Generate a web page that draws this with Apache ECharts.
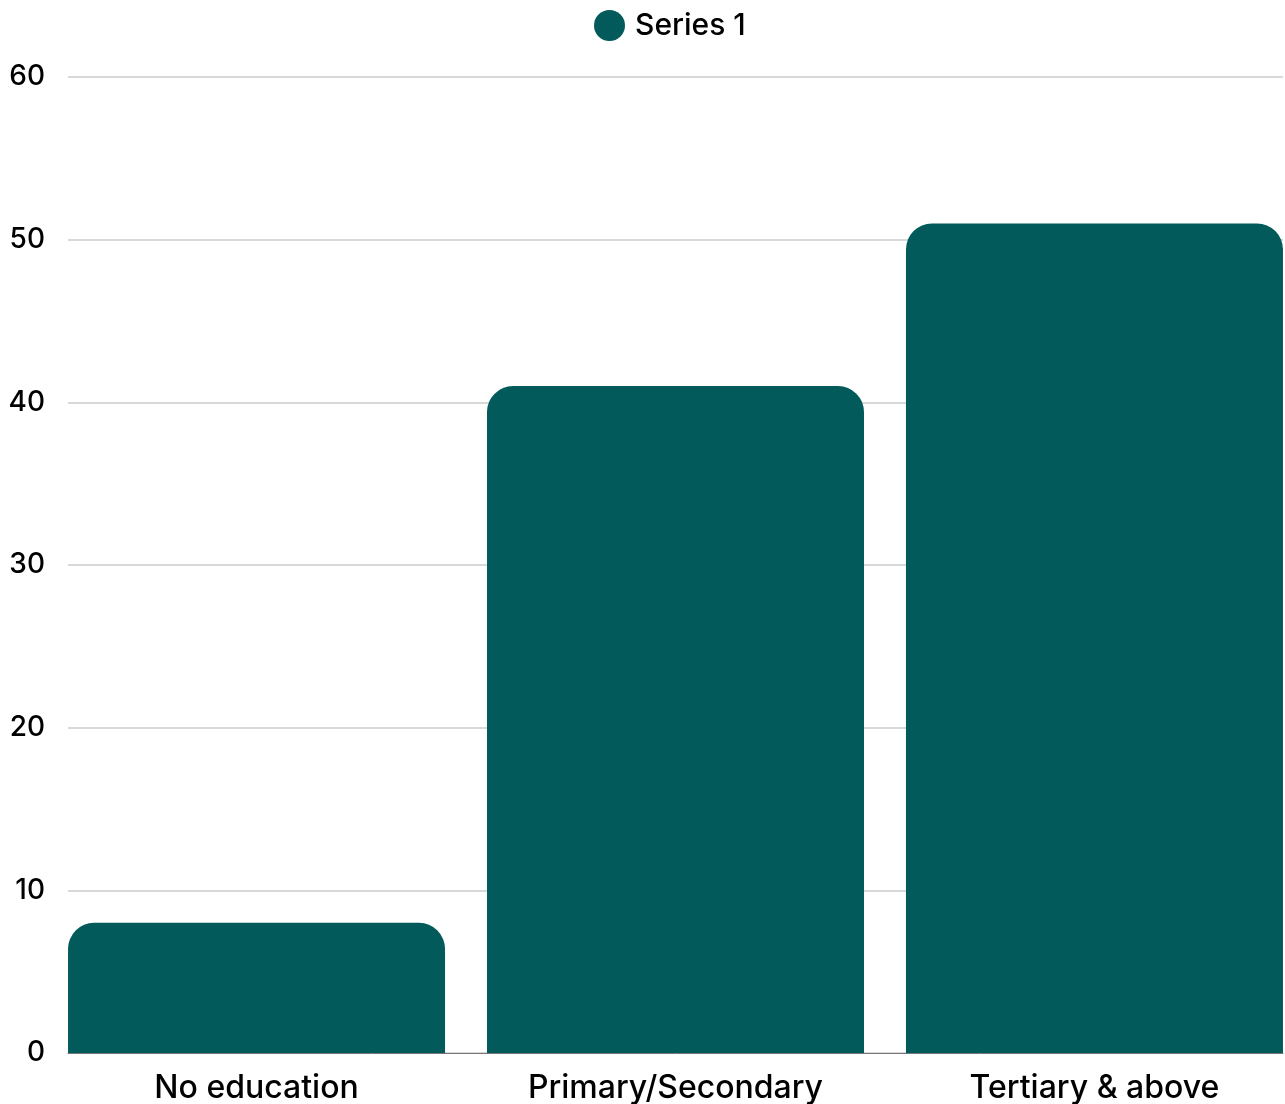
<!DOCTYPE html>
<html>
<head>
<meta charset="utf-8">
<style>
  html, body { margin: 0; padding: 0; background: #fff; }
  #chart { width: 1285px; height: 1104px; }
</style>
<script src="https://cdn.jsdelivr.net/npm/echarts@6/dist/echarts.min.js"></script>
</head>
<body>
<div id="chart"></div>
<script>
// data
const categories = ['No education', 'Primary/Secondary', 'Tertiary & above']
const seriesName = 'Series 1'
const values = [8, 41, 51]
const yTicks = { min: 0, max: 60, interval: 10 }

const barColor = '#025a5a'
const fontFamily = 'Inter, "Open Sans", sans-serif'

// bars touch both ends of the plot, so the x axis is a value axis
// spanning half a bar either side of the first/last category
const catIndex = categories.map((c, i) => i)
const barData = values.map((v, i) => [i, v])

const chart = echarts.init(document.getElementById('chart'))

chart.setOption({
  animation: false,
  legend: {
    top: 5,
    left: 589,
    icon: 'circle',
    itemWidth: 31,
    itemHeight: 31,
    textStyle: { fontFamily, fontSize: 30, fontWeight: 500, color: '#000', padding: [0, 0, 0, 5] },
    data: [seriesName]
  },
  grid: { left: 68, width: 1215, top: 77, height: 976 },
  xAxis: {
    type: 'value',
    min: -0.45,
    max: catIndex.length - 1 + 0.45,
    splitLine: { show: false },
    axisLine: { show: true, onZero: false, lineStyle: { color: '#777', width: 1 } },
    axisTick: { show: false },
    axisLabel: {
      customValues: catIndex,
      formatter: v => categories[v],
      fontFamily,
      fontSize: 32,
      fontWeight: 500,
      color: '#000',
      margin: 19
    }
  },
  yAxis: {
    type: 'value',
    min: yTicks.min,
    max: yTicks.max,
    interval: yTicks.interval,
    axisLine: { show: false },
    axisTick: { show: false },
    axisLabel: { fontFamily, fontSize: 28, fontWeight: 500, color: '#000', margin: 23 },
    splitLine: { lineStyle: { color: '#cccccc', width: 1.5 } }
  },
  series: [
    {
      name: seriesName,
      type: 'bar',
      data: barData,
      barWidth: 377,
      itemStyle: { color: barColor, borderRadius: [26, 26, 0, 0] },
      z: 3
    }
  ]
})
</script>
</body>
</html>
